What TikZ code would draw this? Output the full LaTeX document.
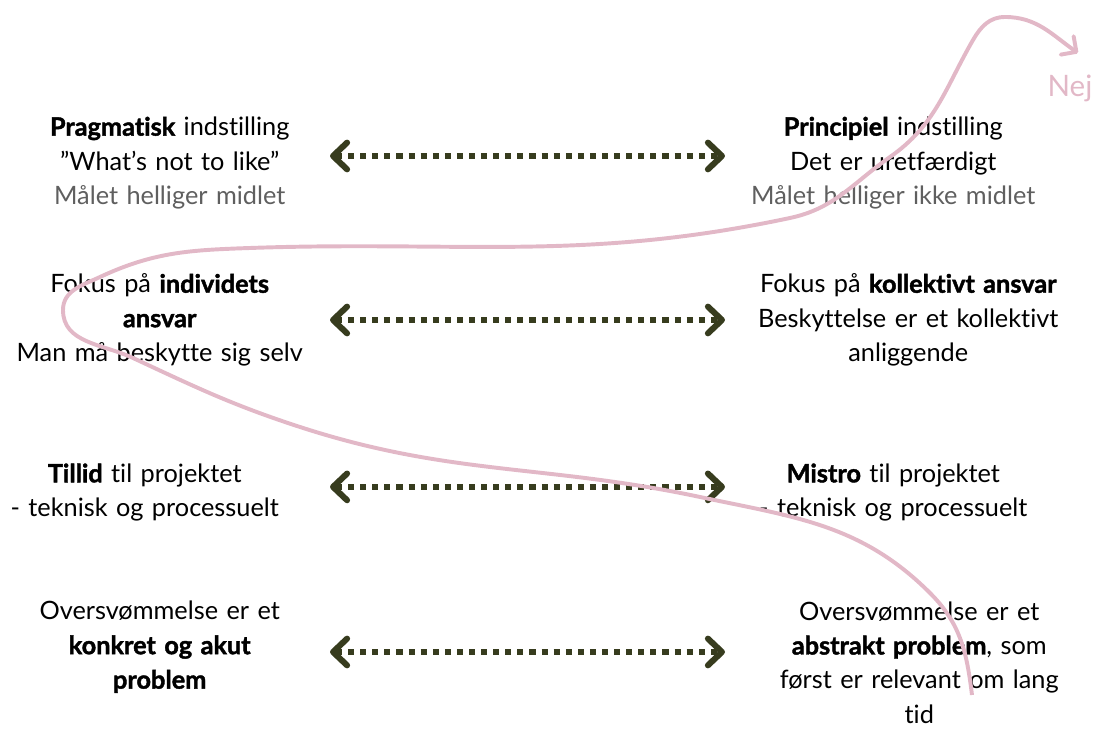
\documentclass[tikz,border=0pt]{standalone}
\usepackage{fontspec}
\setmainfont{Lato}[Ligatures=NoCommon, BoldFeatures={FakeBold=1.6}]
\usepackage{tikz}
\usetikzlibrary{arrows.meta, positioning}

\definecolor{oliven}{RGB}{55,60,30}
\definecolor{rosa}{RGB}{226,184,199}
\definecolor{graatekst}{RGB}{95,95,95}

\begin{document}
\begin{tikzpicture}[x=2.5cm, y=2.5cm,
        tekst/.style={align=center, inner sep=0pt, font=\fontsize{18}{24.5}\selectfont},
        venstre/.style={tekst, anchor=east},
        hoejre/.style={tekst, anchor=west},
        pilpar/.style={oliven, line width=4.3pt, dash pattern=on 4.3pt off 4.3pt,
            {Straight Barb[round, length=10pt, width=19pt]}-{Straight Barb[round, length=10pt, width=19pt]},
            shorten <=0.5cm, shorten >=0.5cm},
        kurve/.style={rosa, line width=2.8pt, -{Straight Barb[round, length=8pt, width=16pt]}}]
        \useasboundingbox (0,0) rectangle (11.02,7.30);

        % Række 1
        \node[venstre, text width=7cm] (prag) at (3.10,5.67) {\textbf{Pragmatisk} indstilling\\”What’s not to like”\\{\color{graatekst}Målet helliger midlet}};
        \node[hoejre, text width=7.4cm] (princ) at (7.45,5.67) {\textbf{Principiel} indstilling\\Det er uretfærdigt\\{\color{graatekst}Målet helliger ikke midlet}};
        \draw[pilpar] ([yshift=0.175cm]prag.east) -- ([yshift=0.175cm]princ.west);

        % Række 2
        \node[venstre, text width=7.5cm] (indiv) at (3.10,4.10) {Fokus på \textbf{individets}\\\textbf{ansvar}\\Man må beskytte sig selv};
        \node[hoejre, text width=8.15cm] (kollek) at (7.45,4.10) {Fokus på \textbf{kollektivt ansvar}\\Beskyttelse er et kollektivt\\anliggende};
        \draw[pilpar] (indiv.east) -- (kollek.west);

        % Række 3
        \node[venstre, text width=8.25cm] (tillid) at (3.10,2.375) {\textbf{Tillid} til projektet\\- teknisk og processuelt};
        \node[hoejre, text width=7.4cm] (mistro) at (7.45,2.375) {\textbf{Mistro} til projektet\\- teknisk og processuelt};
        \draw[pilpar] ([yshift=0.14cm]tillid.east) -- ([yshift=0.14cm]mistro.west);

        % Række 4
        \node[venstre, text width=7.5cm] (konkret) at (3.10,0.83) {Oversvømmelse er et\\\textbf{konkret og akut}\\\textbf{problem}};
        \node[hoejre, text width=8.7cm] (abstrakt) at (7.45,0.675) {Oversvømmelse er et\\\textbf{abstrakt problem}, som\\først er relevant om lang\\tid};
        \draw[pilpar] ([yshift=-0.125cm]konkret.east) -- ([yshift=-0.125cm]konkret.east -| abstrakt.west);

        % Kurven op til "Nej"
        \node[rosa, font=\fontsize{21}{21}\selectfont] (nej) at (10.70,6.42) {Nej};
        \coordinate (start) at (9.72,0.35);
        \coordinate (pilspids) at (10.78,6.77);
        \draw[kurve] (start) to[out=97, in=-45] (9.30,1.37)
            to[out=135, in=-12] (7.00,2.33)
            to[out=168, in=-18] (3.00,3.03)
            to[out=162, in=-25] (1.33,3.72)
            to[out=155, in=-90] (0.63,4.20)
            to[out=90, in=205] (1.00,4.53)
            to[out=25, in=182] (2.50,4.82)
            to[out=2, in=192] (7.90,5.12)
            to[out=12, in=215] (8.90,5.73)
            to[out=35, in=240] (9.73,6.90)
            to[out=60, in=180] (10.05,7.13)
            to[out=0, in=145] (pilspids);
\end{tikzpicture}
\end{document}
